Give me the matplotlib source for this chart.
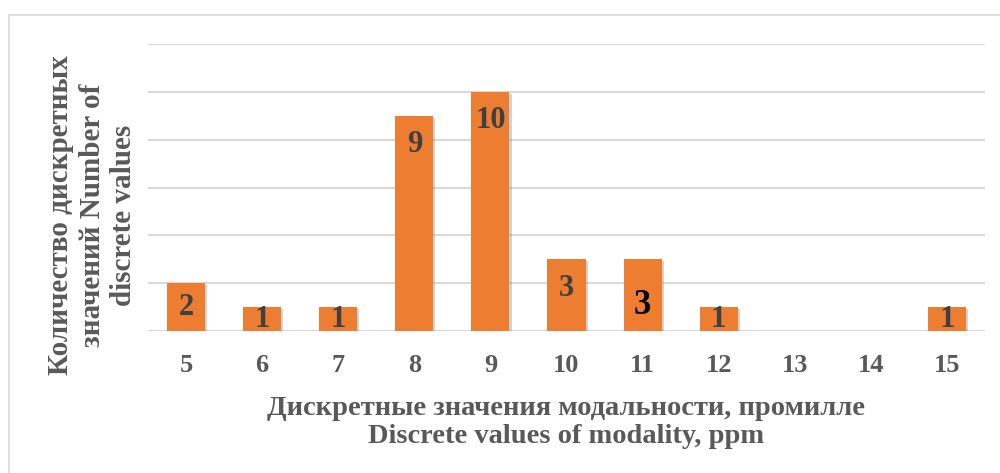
import matplotlib
matplotlib.use("Agg")
import matplotlib.pyplot as plt
from matplotlib.patches import Rectangle
import matplotlib.patheffects as pe

categories = ["5", "6", "7", "8", "9", "10", "11", "12", "13", "14", "15"]
values = [2, 1, 1, 9, 10, 3, 3, 1, 0, 0, 1]
labels = ["2", "1", "1", "9", "10", "3", "3", "1", "", "", "1"]
yticks = [0, 2, 4, 6, 8, 10, 12]

plt.rcParams['font.family'] = ['Liberation Serif', 'DejaVu Serif']

fig = plt.figure(figsize=(10, 4.73), dpi=100)
fig.patches.append(Rectangle((9/1000, -0.1), 1.2, 1 - 15/473 + 0.1, transform=fig.transFigure,
                             fill=False, edgecolor='#d9d9d9', linewidth=1.2))
ax = fig.add_axes([0.148, 1 - 331/473, 0.837, (331 - 44)/473])

x = list(range(len(categories)))
bars = ax.bar(x, values, width=0.5, color='#ed7d31', zorder=3)
for b in bars:
    b.set_path_effects([pe.SimplePatchShadow(offset=(1.5, -1.5), shadow_rgbFace='#808080', alpha=0.35), pe.Normal()])

ax.set_xlim(-0.5, len(categories) - 0.5)
ax.set_ylim(0, 12)
ax.set_yticks(yticks)
ax.yaxis.grid(True, color='#d9d9d9', linewidth=1.5, zorder=0)
ax.set_axisbelow(True)
ax.tick_params(axis='y', left=False, labelleft=False)
ax.tick_params(axis='x', bottom=False, pad=13)
ax.set_xticks(x)
ax.set_xticklabels(categories, fontsize=19, fontweight='bold', color='#595959')
for s in ax.spines.values():
    s.set_visible(False)

# data labels (inside end)
px2pt = 72 / fig.dpi
for i, (v, lab) in enumerate(zip(values, labels)):
    if not lab:
        continue
    top_px = ax.transData.transform((0, v))[1]
    base_px = ax.transData.transform((0, 0))[1]
    center_off = (top_px - base_px) / 2
    off = min(29, center_off)
    color = '#404040'
    size = 22
    if i == 6:
        off = 46
        color = 'black'
        size = 25
    ax.annotate(lab, (i, v), xytext=(0, -off * px2pt), textcoords='offset points',
                ha='center', va='center', fontsize=size, fontweight='bold', color=color, zorder=4)

fig.text(0.566, 1 - 408/473, "Дискретные значения модальности, промилле", ha='center', va='center',
         fontsize=20.5, fontweight='bold', color='#595959')
fig.text(0.566, 1 - 436/473, "Discrete values of modality, ppm", ha='center', va='center',
         fontsize=20.5, fontweight='bold', color='#595959')

fig.text(0.092, 1 - 215/473, "Количество дискретных\nзначений Number of\ndiscrete values", ha='center', va='center',
         rotation=90, fontsize=21, fontweight='bold', color='#595959', linespacing=1.2, multialignment='center')

fig.savefig("out.png", dpi=100)
